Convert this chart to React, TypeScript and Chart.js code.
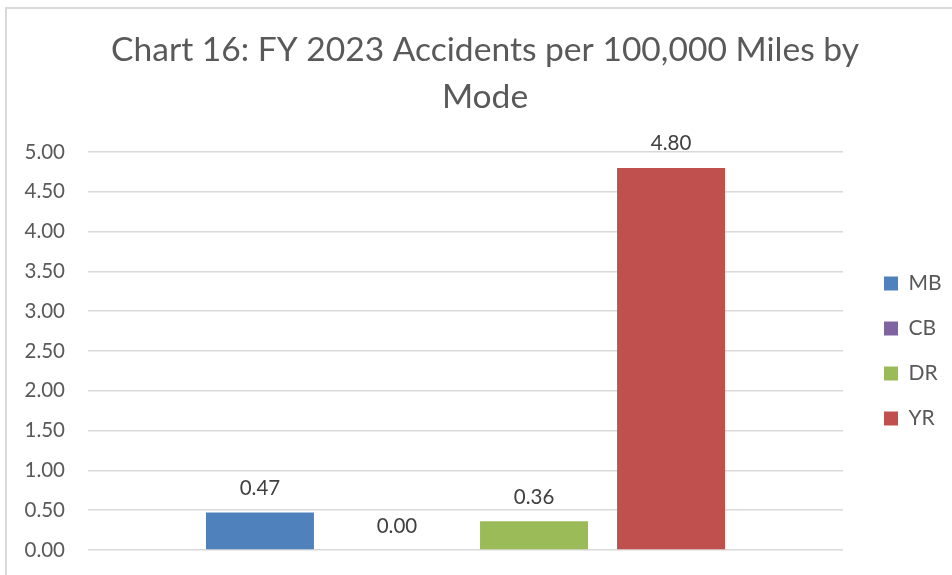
import React, { useEffect, useRef } from "react";
import { Chart, registerables } from "chart.js";

Chart.register(...registerables);

const titleLines = ["Chart 16: FY 2023 Accidents per 100,000 Miles by", "Mode"];
const categories = [""];
const seriesNames = ["MB", "CB", "DR", "YR"];
const seriesValues = [0.47, 0.0, 0.36, 4.8];
const seriesColors = ["#4F81BD", "#8064A2", "#9BBB59", "#C0504D"];
const yMin = 0;
const yMax = 5;
const yStep = 0.5;

const FONT = "Lato, 'Open Sans', sans-serif";

const framePlugin = {
  id: "frame",
  beforeDraw(chart: any) {
    const ctx = chart.ctx;
    ctx.save();
    ctx.fillStyle = "#ffffff";
    ctx.fillRect(0, 0, chart.width, chart.height);
    ctx.strokeStyle = "#d9d9d9";
    ctx.lineWidth = 2;
    ctx.strokeRect(6, 8, chart.width + 20, chart.height + 20);
    ctx.restore();
  },
};

const legendSizePlugin = {
  id: "legendSize",
  beforeInit(chart: any) {
    const lg = chart.legend;
    if (!lg) return;
    const origFit = lg.fit;
    lg.fit = function () {
      origFit.call(this);
      this.width = 109;
    };
  },
  afterLayout(chart: any) {
    const lg = chart.legend;
    const ca = chart.chartArea;
    if (lg && ca) {
      lg.left += 17;
      lg.right += 17;
      lg.top = ca.top;
      lg.bottom = ca.bottom;
      lg.height = ca.bottom - ca.top;
    }
  },
};

const valueLabelPlugin = {
  id: "valueLabels",
  afterDatasetsDraw(chart: any) {
    const ctx = chart.ctx;
    ctx.save();
    ctx.font = `20.5px ${FONT}`;
    ctx.fillStyle = "#404040";
    ctx.textAlign = "center";
    ctx.textBaseline = "alphabetic";
    chart.data.datasets.forEach((ds: any, i: number) => {
      const meta = chart.getDatasetMeta(i);
      meta.data.forEach((bar: any, j: number) => {
        const v = ds.data[j] as number;
        ctx.fillText(v.toFixed(2), bar.x, bar.y - 17.5);
      });
    });
    ctx.restore();
  },
};

export default function App() {
  const ref = useRef<HTMLCanvasElement | null>(null);
  useEffect(() => {
    document.body.style.margin = "0";
    if (!ref.current) return;
    const chart = new Chart(ref.current, {
      type: "bar",
      data: {
        labels: categories,
        datasets: seriesNames.map((name, i) => ({
          label: name,
          data: [seriesValues[i]],
          backgroundColor: seriesColors[i],
          borderWidth: 0,
          categoryPercentage: 0.726,
          barPercentage: 0.788,
        })),
      },
      options: {
        animation: false,
        responsive: false,
        events: [],
        layout: { padding: { left: 18, right: 0, top: 0, bottom: 25 } },
        scales: {
          x: { display: false },
          y: {
            min: yMin,
            max: yMax,
            border: { display: false },
            grid: { color: "#d9d9d9", lineWidth: 1.5, drawTicks: false },
            ticks: {
              stepSize: yStep,
              padding: 23,
              color: "#595959",
              font: { family: FONT, size: 20.5 },
              callback: (v: any) => Number(v).toFixed(2),
            },
            afterFit: (scale: any) => {
              scale.width = 70;
              scale.paddingTop = 12;
              scale.paddingBottom = 12;
            },
          },
        },
        plugins: {
          title: {
            display: true,
            text: titleLines,
            color: "#595959",
            font: { family: FONT, size: 33.6, weight: "normal", lineHeight: 47 / 33.6 },
            padding: { top: 27, bottom: 31 },
          },
          legend: {
            position: "right",
            labels: {
              boxWidth: 14,
              boxHeight: 14,
              padding: 24,
              color: "#595959",
              font: { family: FONT, size: 21 },
            },
          },
          tooltip: { enabled: false },
        },
      },
      plugins: [framePlugin, legendSizePlugin, valueLabelPlugin],
    });
    return () => chart.destroy();
  }, []);
  return <canvas ref={ref} width={952} height={575} style={{ display: "block" }} />;
}
